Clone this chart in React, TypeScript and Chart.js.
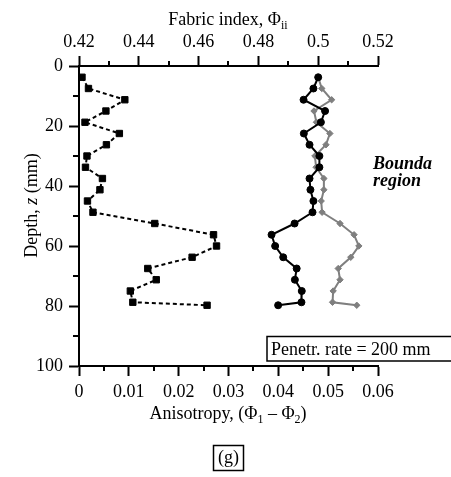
import React, { useEffect, useRef } from 'react';
import { Chart, registerables } from 'chart.js';
Chart.register(...registerables);

// Depth (mm) of each measurement
const depths = [3.75, 7.5, 11.25, 15, 18.75, 22.5, 26.25, 30, 33.75, 37.5, 41.25, 45, 48.75, 52.5, 56.25, 60, 63.75, 67.5, 71.25, 75, 78.75, 79.75];
// Anisotropy (Phi1 - Phi2), bottom axis
const anisotropy = [0.0006, 0.0019, 0.0092, 0.0054, 0.0012, 0.0081, 0.0055, 0.0016, 0.0013, 0.0047, 0.0042, 0.0017, 0.0028, 0.0152, 0.027, 0.0276, 0.0227, 0.0138, 0.0155, 0.0103, 0.0108, 0.0257];
// Fabric index, top axis (black circles)
const fabricBlack = [0.5, 0.4984, 0.4951, 0.5023, 0.5009, 0.4952, 0.4971, 0.5004, 0.5004, 0.4971, 0.4974, 0.4984, 0.4981, 0.4921, 0.4844, 0.4856, 0.4883, 0.4928, 0.4922, 0.4945, 0.4944, 0.4866];
// Fabric index, top axis (grey diamonds)
const fabricGrey = [0.5, 0.5012, 0.5045, 0.4986, 0.4994, 0.5039, 0.5026, 0.4989, 0.4993, 0.5019, 0.5019, 0.501, 0.5013, 0.5073, 0.512, 0.5136, 0.5109, 0.5067, 0.5073, 0.505, 0.5048, 0.5129];

const fabricTicks = [0.42, 0.44, 0.46, 0.48, 0.5, 0.52];
const fabricMinor = [0.43, 0.45, 0.47, 0.49, 0.51];
const anisoTicks = [0, 0.01, 0.02, 0.03, 0.04, 0.05, 0.06];
const anisoMinor = [0.005, 0.015, 0.025, 0.035, 0.045, 0.055];
const depthTicks = [0, 20, 40, 60, 80, 100];
const depthMinor = [10, 30, 50, 70, 90];

const FONT = "'Liberation Serif', 'Times New Roman', serif";

const decorPlugin = {
  id: 'decor',
  afterDraw(chart: any) {
    const ctx = chart.ctx as CanvasRenderingContext2D;
    const { xt, xb, y } = chart.scales;
    const area = chart.chartArea;
    ctx.save();
    ctx.strokeStyle = '#000';
    ctx.fillStyle = '#000';
    ctx.lineWidth = 2;
    // minor ticks
    ctx.beginPath();
    fabricMinor.forEach((v) => {
      const px = Math.round(xt.getPixelForValue(v));
      ctx.moveTo(px, area.top);
      ctx.lineTo(px, area.top - 5);
    });
    anisoMinor.forEach((v) => {
      const px = Math.round(xb.getPixelForValue(v));
      ctx.moveTo(px, area.bottom);
      ctx.lineTo(px, area.bottom + 5);
    });
    depthMinor.forEach((v) => {
      const py = Math.round(y.getPixelForValue(v));
      ctx.moveTo(area.left, py);
      ctx.lineTo(area.left - 6, py);
    });
    ctx.stroke();

    const drawParts = (parts: { t: string; f: string; dy: number }[], cx: number, by: number) => {
      let w = 0;
      parts.forEach((p) => { ctx.font = p.f; w += ctx.measureText(p.t).width; });
      let x = cx - w / 2;
      ctx.textAlign = 'left';
      ctx.textBaseline = 'alphabetic';
      parts.forEach((p) => {
        ctx.font = p.f;
        ctx.fillText(p.t, x, by + p.dy);
        x += ctx.measureText(p.t).width;
      });
    };
    const F = `18px ${FONT}`;
    const S = `12px ${FONT}`;
    drawParts([
      { t: 'Fabric index, Φ', f: F, dy: 0 },
      { t: 'ii', f: S, dy: 4 },
    ], 228, 25);
    drawParts([
      { t: 'Anisotropy, (Φ', f: F, dy: 0 },
      { t: '1', f: S, dy: 4 },
      { t: ' – Φ', f: F, dy: 0 },
      { t: '2', f: S, dy: 4 },
      { t: ')', f: F, dy: 0 },
    ], 228, 419);

    // y title rotated
    ctx.save();
    ctx.translate(37, 205.5);
    ctx.rotate(-Math.PI / 2);
    drawParts([
      { t: 'Depth, ', f: F, dy: 0 },
      { t: 'z', f: `italic 18px ${FONT}`, dy: 0 },
      { t: ' (mm)', f: F, dy: 0 },
    ], 0, 0);
    ctx.restore();

    // region annotation
    ctx.font = `italic bold 18px ${FONT}`;
    ctx.textAlign = 'left';
    ctx.fillText('Bounda', 373, 169);
    ctx.fillText('region', 373, 186);

    // legend box
    ctx.lineWidth = 1.5;
    ctx.beginPath();
    ctx.moveTo(460, 336.5);
    ctx.lineTo(267, 336.5);
    ctx.lineTo(267, 361);
    ctx.lineTo(460, 361);
    ctx.stroke();
    ctx.font = F;
    ctx.fillText('Penetr. rate = 200 mm', 271, 355);

    // panel label
    ctx.strokeRect(213.5, 445.5, 30, 25);
    ctx.textAlign = 'center';
    ctx.fillText('(g)', 228.5, 463);
    ctx.restore();
  },
};

const tickFont = { family: FONT, size: 18 };

export default function App() {
  const ref = useRef<HTMLCanvasElement | null>(null);
  useEffect(() => {
    if (!ref.current) return;
    const chart = new Chart(ref.current, {
      type: 'scatter',
      data: {
        datasets: [
          {
            label: 'Anisotropy',
            xAxisID: 'xb',
            yAxisID: 'y',
            data: depths.map((d, i) => ({ x: anisotropy[i], y: d })),
            showLine: true,
            borderColor: '#000',
            backgroundColor: '#000',
            borderWidth: 2,
            borderDash: [4, 3],
            pointStyle: 'rect',
            pointRadius: 4.5,
            pointBorderWidth: 1,
          },
          {
            label: 'Fabric index A',
            xAxisID: 'xt',
            yAxisID: 'y',
            data: depths.map((d, i) => ({ x: fabricBlack[i], y: d })),
            showLine: true,
            borderColor: '#000',
            backgroundColor: '#000',
            borderWidth: 2,
            pointStyle: 'circle',
            pointRadius: 3.5,
            pointBorderWidth: 1,
          },
          {
            label: 'Fabric index B',
            xAxisID: 'xt',
            yAxisID: 'y',
            data: depths.map((d, i) => ({ x: fabricGrey[i], y: d })),
            showLine: true,
            borderColor: '#7f7f7f',
            backgroundColor: '#7f7f7f',
            borderWidth: 2,
            pointStyle: 'rectRot',
            pointRadius: 3.2,
            pointBorderWidth: 1,
          },
        ],
      },
      options: {
        responsive: false,
        animation: false,
        layout: { padding: { left: 0, top: 0, right: 73, bottom: 0 } },
        plugins: { legend: { display: false }, tooltip: { enabled: false } },
        scales: {
          y: {
            type: 'linear',
            position: 'left',
            reverse: true,
            min: 0,
            max: 100,
            afterBuildTicks: (s: any) => { s.ticks = depthTicks.map((v) => ({ value: v })); },
            afterFit: (s: any) => { s.width = 79; },
            ticks: { color: '#000', font: tickFont, padding: 6, callback: (v: any) => String(v) },
            grid: { drawOnChartArea: false, drawTicks: true, tickLength: 10, tickColor: '#000', tickWidth: 2 },
            border: { display: true, color: '#000', width: 2 },
          },
          xt: {
            type: 'linear',
            position: 'top',
            min: 0.42,
            max: 0.52,
            afterBuildTicks: (s: any) => { s.ticks = fabricTicks.map((v) => ({ value: v })); },
            afterFit: (s: any) => { s.height = 66; },
            ticks: { color: '#000', font: tickFont, padding: 3, maxRotation: 0, autoSkip: false, callback: (v: any) => String(v) },
            grid: { drawOnChartArea: false, drawTicks: true, tickLength: 10, tickColor: '#000', tickWidth: 2 },
            border: { display: true, color: '#000', width: 2 },
          },
          xb: {
            type: 'linear',
            position: 'bottom',
            min: 0,
            max: 0.06,
            afterBuildTicks: (s: any) => { s.ticks = anisoTicks.map((v) => ({ value: v })); },
            afterFit: (s: any) => { s.height = 111; },
            ticks: { color: '#000', font: tickFont, padding: 5, maxRotation: 0, autoSkip: false, callback: (v: any) => String(v) },
            grid: { drawOnChartArea: false, drawTicks: true, tickLength: 10, tickColor: '#000', tickWidth: 2 },
            border: { display: true, color: '#000', width: 2 },
          },
        },
      } as any,
      plugins: [decorPlugin],
    });
    return () => chart.destroy();
  }, []);
  return (
    <div style={{ position: 'absolute', left: 0, top: 0, width: 451, height: 477, background: '#fff' }}>
      <canvas ref={ref} width={451} height={477} style={{ display: 'block' }} />
    </div>
  );
}
